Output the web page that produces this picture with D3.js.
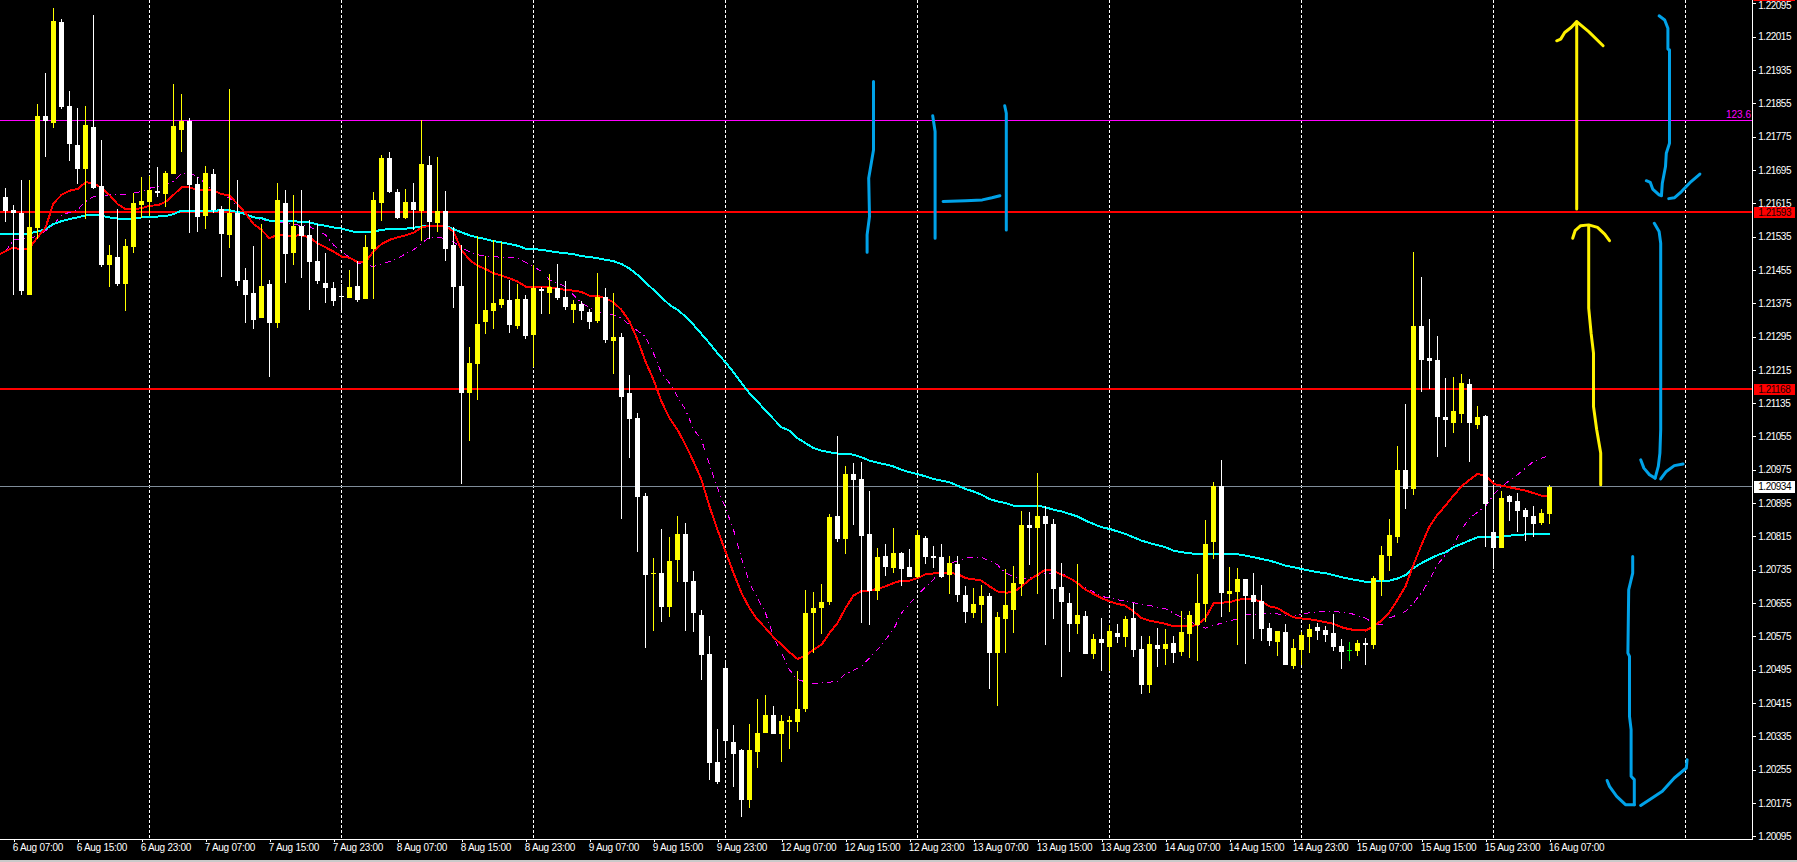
<!DOCTYPE html>
<html><head><meta charset="utf-8">
<script src="https://cdn.jsdelivr.net/npm/d3@7/dist/d3.min.js"></script>
<style>html,body{margin:0;padding:0;background:#000;overflow:hidden}svg{display:block}
text{font-family:"Liberation Sans",Arial,sans-serif;font-size:10px}</style>
</head><body><svg id="c" width="1797" height="862"></svg>
<script>
// All prices are in points (price x 100000).
const opens=[121630,121599,121591,121395,121556,121825,121808,122050,121849,121755,
121697,121798,121657,121467,121486,121421,121510,121611,121618,121645,
121637,121685,121791,121813,121661,121585,121685,121601,121539,121592,
121431,121400,121340,121421,121328,121616,121496,121561,121539,121477,
121424,121412,121393,121388,121417,121385,121505,121616,121724,121642,
121580,121618,121597,121707,121568,121597,121515,121417,121160,121229,
121330,121357,121371,121383,121321,121385,121299,121409,121400,121412,
121390,121359,121373,121354,121333,121390,121285,121294,121160,121100,
120913,120726,120728,120646,120759,120821,120709,120627,120533,120274,
120500,120322,120303,120183,120298,120344,120387,120341,120370,120370,
120401,120632,120644,120658,120865,120809,120965,120953,120821,120685,
120769,120740,120776,120742,120718,120812,120769,120766,120723,120749,
120675,120632,120651,120673,120536,120617,120639,120701,120843,120836,
120865,120845,120694,120656,120605,120625,120533,120569,120550,120584,
120574,120620,120545,120459,120555,120545,120560,120538,120581,120603,
120653,120802,120937,120677,120682,120713,120675,120661,120596,120562,
120586,120505,120543,120574,120598,120591,120584,120553,120543,120541,
120560,120555,120711,120769,120814,120975,120929,121321,121244,121239,
121102,121088,121109,121181,121083,121105,120826,120788,120913,120901,
120879,120865,120848,120869];
const highs=[121651,121611,121671,121671,121853,121927,122083,122057,121885,121844,
121849,122067,121767,121515,121601,121529,121640,121678,121681,121702,
121692,121901,121877,121820,121678,121705,121697,121609,121889,121671,
121460,121513,121565,121431,121664,121647,121635,121647,121575,121565,
121496,121426,121421,121455,121477,121539,121642,121731,121738,121649,
121649,121664,121815,121729,121726,121645,121558,121515,121270,121537,
121489,121527,121522,121431,121421,121395,121467,121414,121445,121469,
121429,121383,121381,121361,121448,121412,121400,121303,121203,121112,
120920,120764,120833,120814,120865,120848,120733,120639,120577,120353,
120512,120363,120305,120365,120425,120435,120409,120387,120385,120493,
120687,120682,120701,120869,121057,120985,120992,120994,120925,120788,
120797,120836,120778,120785,120831,120817,120793,120797,120769,120769,
120697,120692,120699,120680,120634,120737,120745,120877,120874,120968,
120889,120857,120752,120680,120749,120637,120581,120620,120603,120605,
120625,120656,120577,120577,120596,120593,120577,120637,120637,120725,
120855,120946,120999,120742,120740,120713,120728,120699,120608,120589,
120605,120569,120586,120605,120608,120601,120629,120569,120562,120567,
120572,120721,120793,120857,121033,121133,121498,121438,121337,121297,
121196,121198,121205,121193,121129,121107,120935,120925,120915,120919,
120884,120889,120881,120939];
const lows=[121569,121395,121395,121395,121529,121726,121796,121841,121717,121661,
121577,121649,121463,121414,121417,121357,121496,121580,121585,121630,
121606,121685,121738,121544,121546,121553,121591,121438,121508,121417,
121328,121313,121340,121198,121316,121424,121467,121436,121359,121421,
121376,121369,121357,121388,121378,121385,121385,121573,121640,121577,
121577,121551,121525,121529,121546,121477,121364,120940,121045,121143,
121301,121313,121364,121304,121313,121289,121222,121349,121349,121383,
121359,121328,121335,121313,121328,121280,121205,120857,121004,120778,
120548,120589,120610,120622,120706,120589,120586,120471,120229,120221,
120287,120214,120142,120164,120260,120344,120341,120274,120305,120346,
120394,120536,120581,120651,120802,120773,120843,120608,120603,120663,
120721,120728,120697,120718,120715,120749,120740,120716,120677,120658,
120608,120620,120608,120449,120409,120536,120584,120673,120747,120677,
120555,120617,120478,120538,120581,120533,120521,120493,120493,120560,
120550,120526,120437,120440,120502,120507,120512,120529,120524,120517,
120610,120761,120622,120634,120555,120509,120569,120565,120553,120529,
120507,120497,120507,120536,120567,120562,120541,120497,120517,120529,
120507,120545,120671,120733,120800,120881,120915,121162,121169,121006,
121030,121064,121088,120994,121073,120790,120737,120788,120853,120826,
120805,120814,120843,120845];
const closes=[121597,121591,121405,121558,121825,121813,122053,121846,121757,121697,
121803,121652,121467,121491,121421,121513,121616,121621,121647,121640,
121688,121801,121813,121659,121582,121688,121599,121541,121592,121429,
121395,121335,121417,121328,121623,121493,121561,121537,121474,121429,
121412,121381,121389,121414,121383,121510,121623,121724,121642,121580,
121618,121599,121709,121570,121597,121505,121414,121160,121232,121325,
121359,121376,121385,121323,121385,121297,121412,121405,121414,121388,
121366,121373,121357,121330,121390,121287,121294,121150,121097,120910,
120723,120728,120646,120757,120821,120706,120632,120531,120272,120226,
120325,120293,120183,120303,120344,120387,120341,120373,120375,120401,
120632,120644,120658,120862,120809,120965,120951,120817,120685,120766,
120742,120776,120737,120718,120819,120766,120764,120718,120752,120675,
120634,120653,120673,120536,120622,120651,120704,120843,120836,120865,
120845,120689,120658,120605,120627,120533,120569,120560,120589,120574,
120617,120543,120459,120557,120545,120557,120536,120586,120627,120656,
120797,120937,120680,120685,120713,120673,120658,120593,120565,120589,
120507,120548,120579,120593,120589,120579,120550,120538,120543,120560,
120555,120716,120771,120819,120975,120929,121321,121239,121237,121102,
121095,121117,121184,121088,121102,120893,120788,120908,120898,120877,
120862,120845,120872,120934];
const maFast=[121500,121509,121503,121507,121533,121556,121615,121635,121645,121649,
121665,121664,121651,121635,121613,121601,121601,121603,121609,121610,
121618,121635,121653,121653,121647,121647,121645,121637,121633,121613,
121591,121565,121551,121531,121539,121537,121537,121538,121533,121519,
121509,121499,121487,121484,121474,121474,121499,121517,121527,121533,
121538,121544,121557,121561,121561,121561,121547,121503,121479,121465,
121457,121447,121441,121435,121427,121415,121414,121414,121413,121410,
121407,121405,121402,121393,121393,121387,121377,121359,121331,121287,
121235,121191,121139,121099,121071,121035,120995,120951,120887,120831,
120779,120727,120679,120643,120615,120595,120573,120555,120537,120521,
120529,120543,120555,120583,120607,120643,120673,120684,120685,120689,
120695,120703,120709,120709,120715,120724,120726,120729,120727,120725,
120715,120712,120709,120695,120683,120680,120681,120695,120711,120723,
120735,120733,120723,120715,120703,120687,120677,120667,120659,120653,
120649,120635,120619,120613,120609,120605,120599,120599,120599,120603,
120619,120654,120656,120657,120663,120665,120663,120659,120647,120643,
120631,120621,120618,120616,120613,120609,120605,120597,120592,120590,
120589,120599,120613,120633,120663,120695,120747,120795,120839,120867,
120889,120913,120935,120951,120965,120961,120941,120937,120933,120929,
120925,120919,120913,120912];
const maSlow=[121541,121541,121541,121543,121547,121553,121565,121572,121577,121581,
121586,121587,121585,121581,121578,121577,121578,121581,121582,121583,
121584,121589,121597,121597,121597,121597,121597,121598,121598,121594,
121589,121581,121579,121573,121573,121573,121572,121570,121569,121564,
121561,121557,121554,121549,121545,121545,121547,121551,121553,121554,
121554,121556,121559,121561,121561,121561,121553,121545,121538,121533,
121529,121524,121521,121517,121513,121506,121505,121503,121500,121497,
121495,121493,121488,121486,121483,121479,121476,121469,121458,121443,
121425,121407,121389,121371,121359,121343,121323,121301,121279,121255,
121233,121209,121183,121159,121139,121117,121097,121077,121069,121051,
121039,121027,121021,121017,121014,121014,121011,121005,120997,120992,
120988,120983,120975,120969,120965,120959,120953,120949,120945,120937,
120929,120923,120915,120905,120899,120895,120889,120889,120889,120889,
120885,120879,120875,120869,120863,120853,120845,120837,120833,120827,
120821,120813,120805,120799,120794,120789,120781,120777,120775,120772,
120773,120773,120773,120772,120772,120769,120765,120761,120757,120751,
120745,120741,120737,120733,120729,120727,120722,120717,120713,120710,
120706,120706,120709,120709,120714,120722,120739,120751,120761,120770,
120777,120789,120797,120805,120813,120813,120813,120814,120817,120818,
120820,120821,120821,120821];
// readings just before the first whole bar, where the lines leave the left edge
const leadFast=121493, leadSlow=121541, leadBar=-0.7;
const maDotted=[[0,121499],[1,121527],[4,121535],[6,121563],[7,121587],[9,121599],[10,121619],[11,121631],[14,121637],[15,121635],[17,121643],[18,121651],[20,121659],[21,121667],[22,121687],[23,121687],[24,121679],[26,121645],[28,121627],[30,121591],[32,121575],[38,121559],[40,121539],[41,121515],[42,121499],[44,121471],[46,121463],[48,121475],[49,121483],[51,121503],[52,121519],[53,121533],[55,121531],[56,121523],[57,121507],[59,121491],[62,121485],[64,121483],[65,121473],[66,121463],[67,121451],[68,121431],[70,121415],[71,121395],[72,121375],[74,121355],[76,121347],[77,121339],[78,121323],[80,121295],[81,121255],[82,121207],[83,121183],[84,121151],[85,121119],[86,121073],[87,121047],[88,120987],[89,120931],[90,120883],[91,120831],[92,120763],[93,120703],[95,120631],[96,120575],[97,120535],[98,120495],[99,120471],[101,120461],[104,120467],[105,120485],[107,120503],[109,120543],[111,120591],[112,120631],[114,120675],[116,120711],[117,120743],[120,120763],[122,120765],[124,120747],[125,120727],[127,120711],[130,120727],[132,120727],[134,120703],[137,120671],[140,120659],[143,120649],[145,120641],[146,120631],[148,120611],[150,120595],[152,120607],[154,120617],[155,120627],[157,120629],[159,120629],[161,120623],[162,120629],[164,120634],[166,120635],[168,120631],[170,120619],[171,120607],[172,120603],[173,120619],[175,120635],[176,120655],[177,120679],[178,120711],[179,120747],[181,120795],[182,120831],[183,120859],[185,120887],[186,120915],[187,120935],[189,120963],[191,120995],[192,121003],[193,121009]];
const timeLabels=["6 Aug 07:00","6 Aug 15:00","6 Aug 23:00","7 Aug 07:00","7 Aug 15:00","7 Aug 23:00","8 Aug 07:00","8 Aug 15:00","8 Aug 23:00","9 Aug 07:00","9 Aug 15:00","9 Aug 23:00","12 Aug 07:00","12 Aug 15:00","12 Aug 23:00","13 Aug 07:00","13 Aug 15:00","13 Aug 23:00","14 Aug 07:00","14 Aug 15:00","14 Aug 23:00","15 Aug 07:00","15 Aug 15:00","15 Aug 23:00","16 Aug 07:00"];
const timeBars=timeLabels.map((_,k)=>1+8*k);
const midnightBars=[18,42,66,90,114,138,162,186,210];
const priceTicks=[122095,122015,121935,121855,121775,121695,121615,121535,121455,121375,121295,121215,121135,121055,120975,120895,120815,120735,120655,120575,120495,120415,120335,120255,120175,120095];
const levelRed=[121593,121168], levelFib=121814, fibLabel="123.6", lastPrice=120934;
// hand-drawn pen strokes as [bar index, price points]
const blueStrokes=[
[[108.5,121907],[108.5,121743],[107.9,121675],[108,121583],[107.7,121539],[107.7,121497]],
[[115.9,121825],[116.2,121787],[116.2,121531]],
[[124.9,121849],[125.1,121831],[125.1,121551]],
[[117.2,121619],[120,121621],[122.1,121623],[123.3,121628],[124.3,121633]],
[[206.7,122065],[207.4,122055],[207.8,122035],[207.8,121985],[208,121983],[208,121759],[207.6,121735],[207.5,121703],[207.1,121663],[207,121635]],
[[205.1,121669],[205.6,121665],[205.9,121649],[206.7,121635],[207,121633]],
[[207.9,121626],[208.6,121628],[209.5,121643],[210.7,121667],[211.8,121685]],
[[206.1,121567],[206.7,121547],[206.9,121519],[206.9,121071],[206.8,121015],[206.6,120983],[206.2,120955]],
[[204.4,120999],[204.8,120979],[205.5,120963],[206.2,120955]],
[[206.9,120953],[207.6,120971],[208.6,120985],[209.7,120989]],
[[203.4,120767],[203.4,120727],[202.9,120687],[202.8,120535],[203,120527],[203,120383],[203.2,120351],[203.2,120239],[203.6,120231],[203.6,120171]],
[[200.2,120229],[200.5,120215],[201.4,120191],[202.5,120171],[203.6,120171]],
[[204.4,120169],[205.5,120183],[207.1,120203],[208.6,120235],[210.1,120259],[210.2,120279]]
];
const yellowStrokes=[
[[196.4,121601],[196.4,122051]],
[[193.9,122005],[194.4,122009],[194.9,122025],[195.7,122037],[196.4,122051],[197.9,122027],[199.7,121993]],
[[197.9,121559],[197.9,121363],[198.2,121303],[198.5,121255],[198.5,121127],[198.9,121071],[199.4,121015],[199.4,120939]],
[[195.9,121531],[196.2,121549],[196.9,121561],[197.9,121563],[199,121557],[199.9,121541],[200.5,121525]]
];

const svg=d3.select("#c");
const plotRight=1752.5, plotBottom=839;
const x=d3.scaleLinear().domain([0,193]).range([5.5,1549.5]);
const y=d3.scaleLinear().domain([120095,122095]).range([836.3,3.3]);
svg.append("rect").attr("width",1797).attr("height",862).attr("fill","#000");
svg.append("rect").attr("x",0).attr("y",860).attr("width",1797).attr("height",2).attr("fill","#c9c9c9");

// vertical dashed separators
svg.append("g").selectAll("line").data(midnightBars).join("line")
 .attr("x1",d=>x(d)).attr("x2",d=>x(d))
 .attr("y1",0).attr("y2",plotBottom)
 .attr("stroke","#fff").attr("stroke-dasharray","3 2").attr("shape-rendering","crispEdges");

// horizontal levels
svg.append("line").attr("x1",0).attr("x2",plotRight).attr("y1",y(levelFib)).attr("y2",y(levelFib)).attr("stroke","#ff00ff").attr("shape-rendering","crispEdges");
svg.append("g").selectAll("line").data(levelRed).join("line").attr("x1",0).attr("x2",plotRight)
 .attr("y1",d=>y(d)).attr("y2",d=>y(d)).attr("stroke","#ff0000").attr("stroke-width",2).attr("shape-rendering","crispEdges");
svg.append("line").attr("x1",0).attr("x2",plotRight).attr("y1",y(lastPrice)).attr("y2",y(lastPrice)).attr("stroke","#7f8c99").attr("shape-rendering","crispEdges");

// moving averages
const linePair=d3.line().x(d=>x(d[0])).y(d=>y(d[1]));
const withLead=(lead,vals)=>[[leadBar,lead]].concat(vals.map((v,i)=>[i,v]));
svg.append("path").attr("d",linePair(maDotted)).attr("fill","none").attr("stroke","#ff00ff").attr("stroke-dasharray","6 4 1 4").attr("shape-rendering","crispEdges");
svg.append("path").attr("d",linePair(withLead(leadSlow,maSlow))).attr("fill","none").attr("stroke","#00ffff").attr("stroke-width",2).attr("shape-rendering","crispEdges");
svg.append("path").attr("d",linePair(withLead(leadFast,maFast))).attr("fill","none").attr("stroke","#ff0000").attr("stroke-width",2).attr("shape-rendering","crispEdges");

// candles
const col=i=>closes[i]>opens[i]?"#ffff00":closes[i]<opens[i]?"#ffffff":"#00ff00";
const g=svg.append("g").attr("shape-rendering","crispEdges");
const idx=d3.range(opens.length);
g.selectAll("line").data(idx).join("line")
 .attr("x1",i=>x(i)).attr("x2",i=>x(i)).attr("y1",i=>y(highs[i])).attr("y2",i=>y(lows[i])).attr("stroke",col);
g.selectAll("rect").data(idx).join("rect")
 .attr("x",i=>x(i)-2.5).attr("width",5)
 .attr("y",i=>y(Math.max(opens[i],closes[i])))
 .attr("height",i=>Math.max(1,Math.abs(y(opens[i])-y(closes[i]))))
 .attr("fill",col);

// pen strokes
svg.append("g").selectAll("path").data(blueStrokes).join("path").attr("d",linePair).attr("fill","none")
 .attr("stroke","#00a2e8").attr("stroke-width",3).attr("stroke-linecap","round").attr("stroke-linejoin","round");
svg.append("g").selectAll("path").data(yellowStrokes).join("path").attr("d",linePair).attr("fill","none")
 .attr("stroke","#fff200").attr("stroke-width",3).attr("stroke-linecap","round").attr("stroke-linejoin","round");

// axes
const axY=d3.axisRight(y).tickValues(priceTicks).tickSize(3).tickPadding(2.8).tickFormat(d=>d3.format(".5f")(d/1e5));
const gy=svg.append("g").attr("transform",`translate(${plotRight},0)`).call(axY);
gy.select(".domain").remove();
gy.selectAll("line").attr("stroke","#fff").attr("shape-rendering","crispEdges");
gy.selectAll("text").attr("fill","#fff").style("letter-spacing","-0.5px").style("font-family",'"Liberation Sans"').style("font-size","10px");
gy.selectAll("text").filter(d=>d===priceTicks[0]).attr("dy","0.5em");
const axX=d3.axisBottom(x).tickValues(timeBars).tickSize(3).tickPadding(2).tickFormat((d,k)=>timeLabels[k]);
const gx=svg.append("g").attr("transform",`translate(0,${plotBottom})`).call(axX);
gx.select(".domain").remove();
gx.selectAll("line").attr("stroke","#fff").attr("shape-rendering","crispEdges");
gx.selectAll("text").attr("fill","#fff").attr("text-anchor","start").attr("dx",-1.3).attr("y",5).style("letter-spacing","-0.28px").style("font-family",'"Liberation Sans"').style("font-size","10px");
svg.append("line").attr("x1",plotRight).attr("x2",plotRight).attr("y1",0).attr("y2",plotBottom+.5).attr("stroke","#fff").attr("shape-rendering","crispEdges");
svg.append("line").attr("x1",0).attr("x2",plotRight).attr("y1",plotBottom).attr("y2",plotBottom).attr("stroke","#fff").attr("shape-rendering","crispEdges");

// price boxes
function box(p,fill,tc){
 svg.append("rect").attr("x",plotRight+1).attr("y",y(p)-5.8).attr("width",41.5).attr("height",11.6).attr("fill",fill).attr("shape-rendering","crispEdges");
 svg.append("text").attr("x",plotRight+5.8).attr("y",y(p)).attr("dy",".34em").attr("fill",tc).style("letter-spacing","-0.5px").text((p/1e5).toFixed(5));
}
levelRed.forEach(p=>box(p,"#ff0000","#200000"));
box(lastPrice,"#ffffff","#000");
svg.append("rect").attr("x",plotRight+1).attr("y",0).attr("width",41.5).attr("height",1).attr("fill","#ff0000");
svg.append("text").attr("x",plotRight-1.5).attr("y",y(levelFib)-2).attr("text-anchor","end").attr("fill","#ff00ff").text(fibLabel);
</script></body></html>
